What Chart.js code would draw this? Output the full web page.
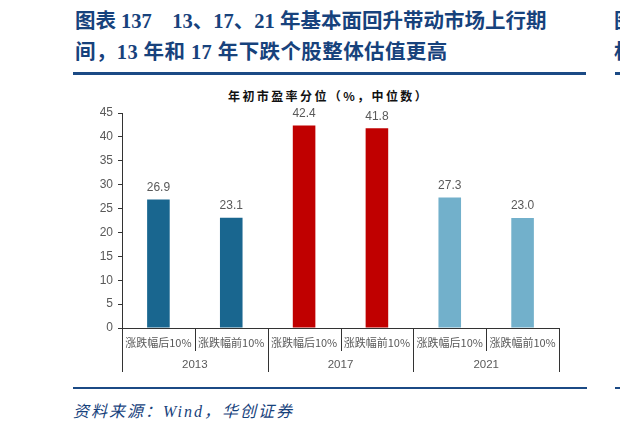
<!DOCTYPE html>
<html><head><meta charset="utf-8">
<script src="https://cdn.jsdelivr.net/npm/chart.js@4.4.1/dist/chart.umd.min.js"></script>
<style>
html,body{margin:0;padding:0;background:#fff;width:620px;height:429px;overflow:hidden;position:relative;}
.t{position:absolute;white-space:nowrap;color:#17427C;font-family:"Liberation Serif","Noto Sans CJK SC",serif;font-weight:bold;font-size:20.5px;line-height:24px;}
.rule{position:absolute;background:#1B4A85;}
#sub{position:absolute;left:228px;top:87px;white-space:nowrap;font-family:"Noto Sans CJK SC",sans-serif;font-weight:bold;font-size:12px;letter-spacing:2.4px;color:#111;}
#src{position:absolute;left:73px;top:398px;white-space:nowrap;font-family:"Liberation Serif","Noto Sans CJK SC",serif;font-style:italic;font-size:16px;color:#17427C;letter-spacing:2px;}
#wrap{position:absolute;left:0;top:0;width:620px;height:429px;}
</style></head><body>
<div class="t" style="left:75px;top:9px;">图表 137&nbsp;&nbsp;&nbsp; 13、17、21 年基本面回升带动市场上行期</div>
<div class="t" style="left:75px;top:40px;letter-spacing:0.4px;">间，13 年和 17 年下跌个股整体估值更高</div>
<div class="t" style="left:614px;top:9px;">图</div>
<div class="t" style="left:614px;top:40px;">相</div>
<div class="rule" style="left:73px;top:72px;width:513px;height:3px;"></div>
<div class="rule" style="left:615px;top:72px;width:10px;height:3px;"></div>
<div id="sub">年初市盈率分位（%，中位数）</div>
<div class="rule" style="left:73px;top:387px;width:514px;height:2px;"></div>
<div class="rule" style="left:615px;top:387px;width:10px;height:2px;"></div>
<div id="src">资料来源：Wind，华创证券</div>
<div id="wrap"><canvas id="c" width="620" height="429"></canvas></div>
<script>
const categories = ["涨跌幅后10%","涨跌幅前10%","涨跌幅后10%","涨跌幅前10%","涨跌幅后10%","涨跌幅前10%"];
const groups = ["2013","2017","2021"];
const values = [26.9, 23.1, 42.4, 41.8, 27.3, 23.0];
const barColors = ["#19668F","#19668F","#C00000","#C00000","#72B0CB","#72B0CB"];

const multiAxis = {
  id:'multiAxis',
  afterDraw(chart){
    const ctx = chart.ctx, xs = chart.scales.x, area = chart.chartArea;
    const n = categories.length;
    const step = (xs.getPixelForValue(1) - xs.getPixelForValue(0));
    ctx.save();
    ctx.strokeStyle = '#333';
    ctx.lineWidth = 1;
    for (let i=0;i<=n;i++){
      const x = Math.round(xs.getPixelForValue(i) - step/2) + 0.5;
      const len = (i%2===0) ? 44 : 23;
      ctx.beginPath(); ctx.moveTo(x, area.bottom); ctx.lineTo(x, area.bottom+len); ctx.stroke();
    }
    ctx.fillStyle = '#595959';
    ctx.textAlign = 'center'; ctx.textBaseline = 'middle';
    ctx.font = '11px "Noto Sans CJK SC", "Liberation Sans", sans-serif';
    for (let i=0;i<n;i++){
      ctx.fillText(categories[i], xs.getPixelForValue(i), area.bottom+15);
    }
    ctx.font = '11.5px "Liberation Sans", sans-serif';
    for (let g=0; g<groups.length; g++){
      const x = (xs.getPixelForValue(2*g) + xs.getPixelForValue(2*g+1))/2;
      ctx.fillText(groups[g], x, area.bottom+37);
    }
    ctx.restore();
  },
  afterDatasetsDraw(chart){
    const ctx = chart.ctx;
    const meta = chart.getDatasetMeta(0);
    ctx.save();
    ctx.fillStyle = '#595959';
    ctx.font = '12px "Liberation Sans", sans-serif';
    ctx.textAlign = 'center'; ctx.textBaseline = 'middle';
    meta.data.forEach((bar,i)=>{
      ctx.fillText(values[i].toFixed(1), bar.x, bar.y - 12);
    });
    ctx.restore();
  }
};

new Chart(document.getElementById('c'), {
  type:'bar',
  data:{labels:categories, datasets:[{data:values, backgroundColor:barColors, barPercentage:0.31, categoryPercentage:1.0}]},
  options:{
    responsive:false, animation:false, devicePixelRatio:1,
    layout:{padding:{left:82, right:61, top:113, bottom:57}},
    plugins:{legend:{display:false}, tooltip:{enabled:false}},
    scales:{
      x:{
        offset:true,
        grid:{display:false, drawOnChartArea:false},
        border:{display:true, color:'#333', width:1},
        ticks:{display:false},
        afterFit(s){ s.height = 44; }
      },
      y:{
        min:0, max:45,
        ticks:{stepSize:5, color:'#595959', font:{family:'"Liberation Sans", sans-serif', size:12}, padding:5},
        grid:{drawOnChartArea:false, drawTicks:true, tickLength:4, color:'#333'},
        border:{display:true, color:'#333', width:1},
        afterFit(s){ s.width = 40; }
      }
    }
  },
  plugins:[multiAxis]
});
</script>
</body></html>
